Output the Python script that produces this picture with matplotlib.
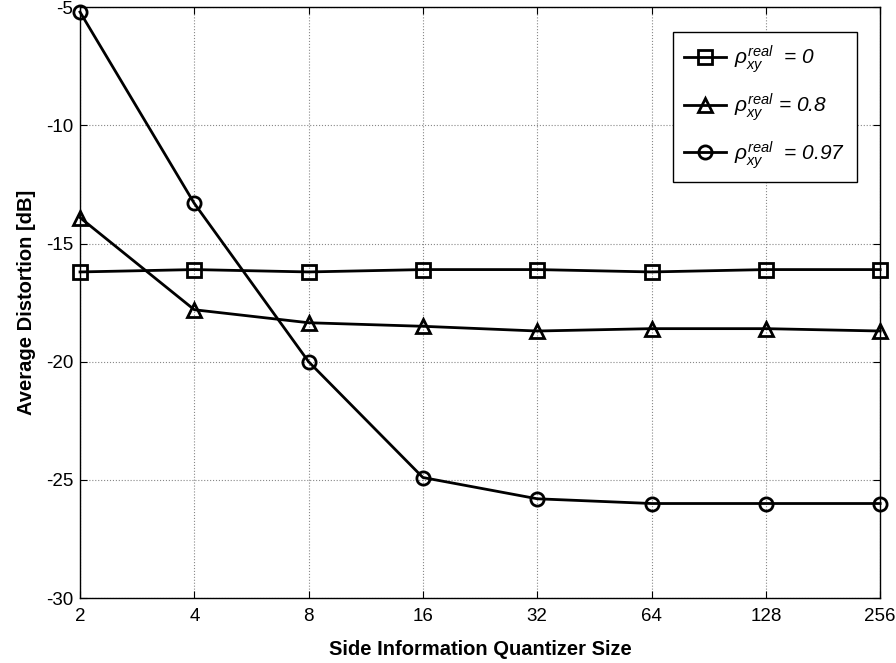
import matplotlib
matplotlib.use("Agg")
import matplotlib.pyplot as plt

plt.rcParams['font.family'] = ['Liberation Sans', 'DejaVu Sans']
plt.rcParams['mathtext.fontset'] = 'custom'
plt.rcParams['mathtext.it'] = 'Liberation Sans:italic'
plt.rcParams['mathtext.rm'] = 'Liberation Sans:italic'
plt.rcParams['mathtext.default'] = 'it'

x = [2, 4, 8, 16, 32, 64, 128, 256]
rho0 = [-16.2, -16.1, -16.2, -16.1, -16.1, -16.2, -16.1, -16.1]
rho08 = [-13.9, -17.8, -18.35, -18.5, -18.7, -18.6, -18.6, -18.7]
rho097 = [-5.2, -13.3, -20.0, -24.9, -25.8, -26.0, -26.0, -26.0]
labels = [r'$\rho_{xy}^{real}$  = 0', r'$\rho_{xy}^{real}$ = 0.8', r'$\rho_{xy}^{real}$  = 0.97']
xticklabels = ['2', '4', '8', '16', '32', '64', '128', '256']
yticks = [-30, -25, -20, -15, -10, -5]

fig = plt.figure(figsize=(8.96, 6.63), dpi=100)
ax = fig.add_axes([0.0893, 0.098, 0.893, 0.891])

kw = dict(color='black', linewidth=2, markersize=9.5, markerfacecolor='none', markeredgewidth=2, clip_on=False)
ax.plot(x, rho0, marker='s', label=labels[0], **kw)
ax.plot(x, rho08, marker='^', label=labels[1], **kw)
ax.plot(x, rho097, marker='o', label=labels[2], **kw)

ax.set_xscale('log', base=2)
ax.set_xlim(2, 256)
ax.set_ylim(-30, -5)
ax.set_xticks(x)
ax.set_xticklabels(xticklabels)
ax.minorticks_off()
ax.set_yticks(yticks)
ax.set_yticklabels([str(v) for v in yticks])
ax.tick_params(direction='in', labelsize=13.5, length=5, top=True, right=True)
ax.tick_params(axis='x', pad=7)
ax.tick_params(axis='y', pad=5)
ax.grid(True, linestyle=':', color='#888888', linewidth=0.8)
for s in ax.spines.values():
    s.set_linewidth(1.0)

ax.set_xlabel('Side Information Quantizer Size', fontsize=14.5, fontweight='bold', labelpad=11)
ax.set_ylabel('Average Distortion [dB]', fontsize=14.5, fontweight='bold', labelpad=7)

leg = ax.legend(loc='upper right', bbox_to_anchor=(0.971, 0.958), borderaxespad=0, fontsize=15,
                fancybox=False, edgecolor='black', framealpha=1, handlelength=2.0,
                handletextpad=0.4, labelspacing=0.75, borderpad=0.55)
leg.get_frame().set_linewidth(1.0)
for t in leg.get_texts():
    t.set_fontstyle('italic')

fig.savefig('out.png', dpi=100)
